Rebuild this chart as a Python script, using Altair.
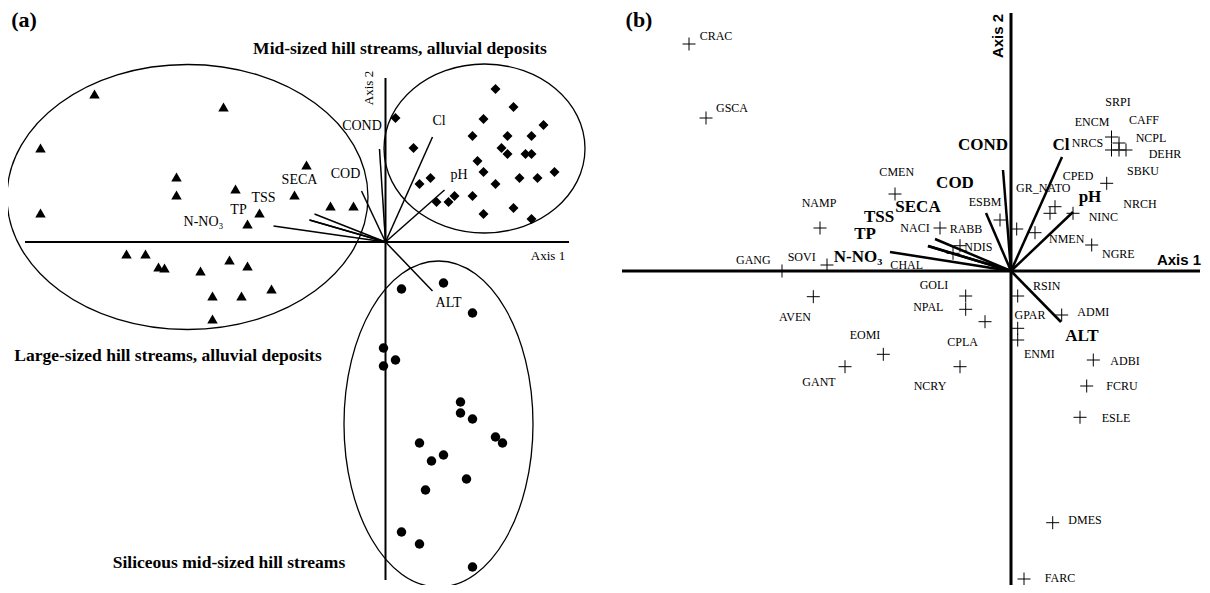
import altair as alt
import pandas as pd

# ---------------- Panel (a): site scores ----------------
tri_x = [-2.91, -1.62, -3.45, -2.09, -2.09, -1.50, -0.79, -0.91, -0.55, -0.32, -1.26, -1.38, -3.45,
         -2.59, -2.40, -2.27, -2.21, -1.85, -1.56, -1.38, -1.14, -1.73, -1.44, -1.73]
tri_y = [1.48, 1.35, 0.94, 0.65, 0.47, 0.53, 0.77, 0.47, 0.36, 0.36, 0.29, 0.18, 0.29,
         -0.12, -0.12, -0.25, -0.26, -0.29, -0.18, -0.24, -0.47, -0.54, -0.54, -0.77]
dia_x = [0.10, 0.28, 1.10, 1.28, 0.98, 1.58, 0.87, 1.22, 1.46, 1.16, 1.22, 1.40, 1.46, 0.92,
         0.34, 0.45, 0.98, 1.10, 1.34, 1.52, 1.69, 0.51, 0.63, 0.69, 0.87, 0.98, 1.28, 1.46]
dia_y = [1.24, 0.94, 1.53, 1.35, 1.23, 1.17, 1.06, 1.06, 1.06, 0.94, 0.88, 0.88, 0.88, 0.81,
         0.58, 0.64, 0.70, 0.58, 0.64, 0.64, 0.70, 0.40, 0.40, 0.46, 0.46, 0.28, 0.34, 0.23]
cir_x = [0.16, 0.58, 0.87, -0.02, 0.10, -0.02, 0.75, 0.75, 0.87, 1.10, 1.17, 0.34, 0.58, 0.46,
         0.81, 0.40, 0.16, 0.34, 0.87]
cir_y = [-0.47, -0.41, -0.71, -1.06, -1.18, -1.24, -1.60, -1.71, -1.77, -1.95, -2.01, -2.01,
         -2.13, -2.19, -2.37, -2.48, -2.90, -3.02, -3.25]

env_names = ["COND", "Cl", "pH", "COD", "SECA", "TSS", "TP", "N-NO₃", "ALT"]
a_vec_x = [-0.06, 0.47, 0.59, -0.24, -0.71, -0.76, -0.76, -1.12, 0.47]
a_vec_y = [0.93, 1.05, 0.52, 0.51, 0.28, 0.22, 0.22, 0.16, -0.49]
a_lab_x = [-0.235, 0.535, 0.735, -0.40, -0.86, -1.22, -1.47, -1.82, 0.63]
a_lab_y = [1.16, 1.21, 0.67, 0.68, 0.62, 0.44, 0.32, 0.20, -0.61]

group_names = ["Mid-sized hill streams, alluvial deposits",
               "Large-sized hill streams, alluvial deposits",
               "Siliceous mid-sized hill streams"]
group_lab_x = [0.145, -2.175, -1.565]
group_lab_y = [1.93, -1.14, -3.21]
ell_cx = [0.99, -1.98, 0.53]
ell_cy = [0.935, 0.45, -1.82]
ell_rx = [1.005, 1.805, 0.945]
ell_ry = [0.845, 1.325, 1.63]

a_axis_x = [-3.605, 1.835]
a_axis_y = [1.64, -3.38]

# ---------------- Panel (b): species scores ----------------
sp_x = [-3.22, -3.05, -1.16, -1.91, -1.84, -2.29, -0.71, -0.51, -0.58, -0.11, 0.057, 0.24, 0.39,
        0.44, 0.62, 0.957, 0.807, 1.005, 1.005, 1.08, 1.08, 1.15,
        -0.453, -0.453, -0.26, -0.51, -1.277, -1.66, -1.977, 0.067, 0.067, 0.067, 0.507,
        0.823, 0.757, 0.69, 0.417, 0.13]
sp_y = [2.27, 1.53, 0.77, 0.43, 0.06, 0.0, 0.43, 0.253, 0.177, 0.51, 0.42, 0.383, 0.577,
        0.643, 0.577, 0.877, 0.26, 1.34, 1.21, 1.28, 1.21, 1.21,
        -0.25, -0.383, -0.507, -0.957, -0.833, -0.957, -0.257, -0.25, -0.573, -0.69, -0.44,
        -0.89, -1.15, -1.463, -2.517, -3.08]

sp_names = ["CRAC", "GSCA", "CMEN", "NAMP", "SOVI", "GANG", "CHAL", "NACI", "RABB", "NDIS",
            "ESBM", "GR_NATO", "CPED", "NINC", "NMEN", "NGRE", "NRCH", "SBKU", "DEHR", "NCPL",
            "CAFF", "SRPI", "ENCM", "NRCS", "GOLI", "NPAL", "CPLA", "NCRY", "EOMI", "GANT",
            "AVEN", "RSIN", "GPAR", "ENMI", "ADMI", "ADBI", "FCRU", "ESLE", "DMES", "FARC"]
sp_lab_x = [-2.95, -2.79, -1.143, -1.92, -2.093, -2.577, -1.043, -0.96, -0.45, -0.327,
            -0.26, 0.323, 0.67, 0.923, 0.557, 1.073, 1.29, 1.32, 1.54, 1.40,
            1.33, 1.07, 0.81, 0.765, -0.77, -0.827, -0.483, -0.81, -1.46, -1.92,
            -2.16, 0.357, 0.19, 0.283, 0.823, 1.14, 1.11, 1.05, 0.74, 0.49]
sp_lab_y = [2.35, 1.627, 0.993, 0.677, 0.137, 0.11, 0.06, 0.427, 0.42, 0.237,
            0.693, 0.827, 0.95, 0.537, 0.317, 0.17, 0.67, 1.0, 1.175, 1.327,
            1.51, 1.693, 1.493, 1.28, -0.14, -0.363, -0.707, -1.15, -0.64, -1.107,
            -0.463, -0.15, -0.44, -0.83, -0.407, -0.90, -1.15, -1.47, -2.49, -3.07]

b_vec_x = [-0.08, 0.51, 0.62, -0.25, -0.76, -0.83, -0.83, -1.21, 0.50]
b_vec_y = [1.01, 1.14, 0.59, 0.58, 0.32, 0.25, 0.25, 0.19, -0.51]
b_lab_x = [-0.28, 0.50, 0.79, -0.56, -0.93, -1.32, -1.46, -1.53, 0.71]
b_lab_y = [1.26, 1.26, 0.74, 0.88, 0.64, 0.54, 0.37, 0.14, -0.65]

b_axis_x = [-3.89, 1.89]
b_axis_y = [2.58, -3.22]

# ---------------- layout ----------------
WA, WB, H = 600, 594, 577
XA = [-3.775, 2.225]
YA = [-3.43, 2.34]
XB = [-4.03, 1.91]
YB = [-3.14, 2.63]
SERIF = "Liberation Serif"
SANS = "Liberation Sans"


def enc(xd, yd):
    sx = alt.Scale(domain=xd, nice=False, zero=False)
    sy = alt.Scale(domain=yd, nice=False, zero=False)
    return (lambda f="x": alt.X(f"{f}:Q", scale=sx, axis=None),
            lambda f="y": alt.Y(f"{f}:Q", scale=sy, axis=None))


def axes_layer(X, Y, ax_x, ax_y, width):
    df = pd.DataFrame({"x": [ax_x[0], 0], "x2": [ax_x[1], 0],
                       "y": [0, ax_y[0]], "y2": [0, ax_y[1]]})
    return alt.Chart(df).mark_rule(color="black", strokeWidth=width, clip=True).encode(
        x=X("x"), x2="x2", y=Y("y"), y2="y2")


def vec_layer(X, Y, vx, vy, width):
    df = pd.DataFrame({"x": 0.0, "y": 0.0, "x2": vx, "y2": vy})
    return alt.Chart(df).mark_rule(color="black", strokeWidth=width).encode(
        x=X("x"), x2="x2", y=Y("y"), y2="y2")


def text_layer(X, Y, texts, xs, ys, **kw):
    df = pd.DataFrame({"t": texts, "x": xs, "y": ys})
    props = dict(font=SERIF, color="black", align="center", baseline="middle")
    props.update(kw)
    return alt.Chart(df).mark_text(**props).encode(x=X("x"), y=Y("y"), text="t:N")


# ---- panel (a)
Xa, Ya = enc(XA, YA)
px_per_unit = WA / (XA[1] - XA[0])
shapes, sizes = [], []
for rx, ry in zip(ell_rx, ell_ry):
    if rx >= ry:
        r = ry / rx
        shapes.append(f"M-1,0A1,{r:.4f} 0 1,1 1,0A1,{r:.4f} 0 1,1 -1,0Z")
        sizes.append((2 * rx * px_per_unit) ** 2)
    else:
        r = rx / ry
        shapes.append(f"M-{r:.4f},0A{r:.4f},1 0 1,1 {r:.4f},0A{r:.4f},1 0 1,1 -{r:.4f},0Z")
        sizes.append((2 * ry * px_per_unit) ** 2)
ell_df = pd.DataFrame({"x": ell_cx, "y": ell_cy, "shape": shapes, "size": sizes})
ellipses = alt.Chart(ell_df).mark_point(filled=False, color="black", strokeWidth=1.3,
                                        opacity=1, clip=True).encode(
    x=Xa("x"), y=Ya("y"),
    shape=alt.Shape("shape:N", scale=None),
    size=alt.Size("size:Q", scale=None))

tri = alt.Chart(pd.DataFrame({"x": tri_x, "y": tri_y})).mark_point(
    shape="triangle-up", filled=True, color="black", size=110, opacity=1).encode(x=Xa(), y=Ya())
dia = alt.Chart(pd.DataFrame({"x": dia_x, "y": dia_y})).mark_point(
    shape="diamond", filled=True, color="black", size=100, opacity=1).encode(x=Xa(), y=Ya())
cir = alt.Chart(pd.DataFrame({"x": cir_x, "y": cir_y})).mark_point(
    shape="circle", filled=True, color="black", size=90, opacity=1).encode(x=Xa(), y=Ya())

panel_a = alt.layer(
    axes_layer(Xa, Ya, a_axis_x, a_axis_y, 2),
    vec_layer(Xa, Ya, a_vec_x, a_vec_y, 1.5),
    ellipses, tri, dia, cir,
    text_layer(Xa, Ya, env_names, a_lab_x, a_lab_y, fontSize=14),
    text_layer(Xa, Ya, group_names, group_lab_x, group_lab_y, fontSize=17.5, fontWeight="bold"),
    text_layer(Xa, Ya, ["Axis 1"], [1.625], [-0.14], fontSize=13),
    text_layer(Xa, Ya, ["Axis 2"], [-0.165], [1.54], fontSize=13, angle=270),
    text_layer(Xa, Ya, ["(a)"], [-3.615], [2.225], fontSize=22, fontWeight="bold"),
).properties(width=WA, height=H)

# ---- panel (b)
Xb, Yb = enc(XB, YB)
crosses = alt.Chart(pd.DataFrame({"x": sp_x, "y": sp_y})).mark_point(
    shape="M-1,0H1M0,-1V1", filled=False, color="black", strokeWidth=1, size=169,
    opacity=1, clip=True).encode(x=Xb(), y=Yb())

panel_b = alt.layer(
    axes_layer(Xb, Yb, b_axis_x, b_axis_y, 3),
    vec_layer(Xb, Yb, b_vec_x, b_vec_y, 2.5),
    crosses,
    text_layer(Xb, Yb, sp_names, sp_lab_x, sp_lab_y, fontSize=12),
    text_layer(Xb, Yb, env_names, b_lab_x, b_lab_y, fontSize=17, fontWeight="bold"),
    text_layer(Xb, Yb, ["Axis 1"], [1.68], [0.11], fontSize=15, fontWeight="bold", font=SANS),
    text_layer(Xb, Yb, ["Axis 2"], [-0.13], [2.35], fontSize=15, fontWeight="bold", font=SANS,
               angle=270),
    text_layer(Xb, Yb, ["(b)"], [-3.72], [2.515], fontSize=22, fontWeight="bold"),
).properties(width=WB, height=H)

chart = alt.hconcat(panel_a, panel_b, spacing=0, padding=0).configure_view(
    strokeWidth=0, stroke="transparent")

chart.save("out.html", embed_options={"renderer": "svg", "actions": False})
